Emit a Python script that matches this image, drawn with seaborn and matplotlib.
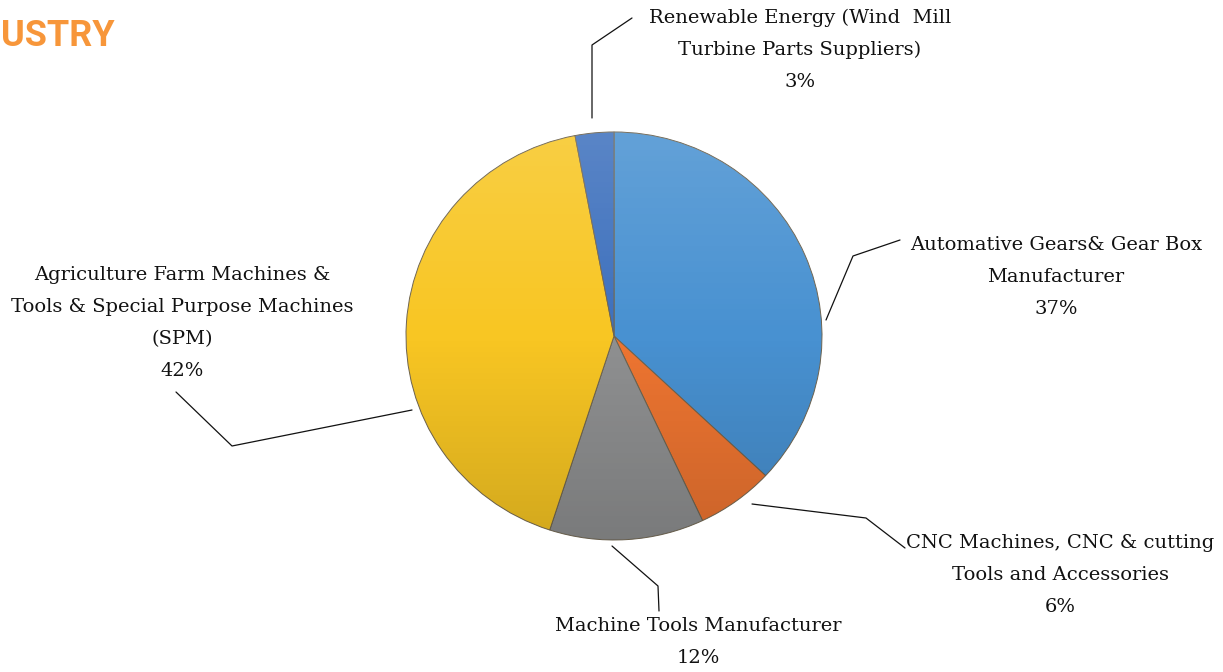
import numpy as np
import seaborn as sns
import matplotlib.pyplot as plt
from matplotlib.patches import Circle

categories = [
    "Automative Gears& Gear Box\nManufacturer",
    "CNC Machines, CNC & cutting\nTools and Accessories",
    "Machine Tools Manufacturer",
    "Agriculture Farm Machines &\nTools & Special Purpose Machines\n(SPM)",
    "Renewable Energy (Wind  Mill\nTurbine Parts Suppliers)",
]
shares = [37, 6, 12, 42, 3]
colors = ["#4891d1", "#ee7531", "#8f9091", "#f8c623", "#3d70bd"]

# label centre (x, middle y) and leader line points, in pixels from top-left
label_pos = [(1056, 277), (1060, 575), (698, 642), (182, 323), (800, 50)]
leaders = [
    [(826, 320), (853, 256), (900, 240)],
    [(752, 504), (866, 518), (905, 548)],
    [(612, 546), (658, 586), (659, 611)],
    [(412, 410), (232, 446), (176, 392)],
    [(592, 118), (592, 45), (632, 18)],
]

sns.set_theme(style="white")
plt.rcParams["font.family"] = ["DejaVu Serif"]

W, H = 1223, 672
fig = plt.figure(figsize=(W / 100, H / 100), dpi=100)
fig.patch.set_facecolor("white")

# pie axes: centre (614, 336), about 416 x 408 px
cx, cy, rx, ry = 614, 336, 208, 204
ax = fig.add_axes([(cx - rx) / W, (H - cy - ry) / H, 2 * rx / W, 2 * ry / H])
wedges, _ = ax.pie(
    shares,
    colors=colors,
    startangle=90,
    counterclock=False,
    radius=1,
    wedgeprops=dict(edgecolor="#6e6450", linewidth=0.7),
)
ax.set_xlim(-1.0, 1.0)
ax.set_ylim(-1.0, 1.0)
ax.set_aspect("auto")
ax.axis("off")

# light top / dark bottom shading to mimic the bevelled excel look
grad = np.linspace(1, 0, 256).reshape(-1, 1)
shade = np.zeros((256, 1, 4))
shade[..., :3] = np.where(grad[..., None] > 0.5, 1.0, 0.0)
shade[..., 3] = np.abs(grad - 0.5) * 0.30
im = ax.imshow(shade, extent=(-1, 1, -1, 1), aspect="auto", zorder=3)
im.set_clip_path(Circle((0, 0), 1, transform=ax.transData))

# overlay axes in pixel coords for labels and leader lines
ov = fig.add_axes([0, 0, 1, 1], facecolor="none")
ov.set_xlim(0, W)
ov.set_ylim(H, 0)
ov.axis("off")

line_h = 32
for cat, pct, (lx, ly), pts in zip(categories, shares, label_pos, leaders):
    lines = cat.split("\n") + [f"{pct}%"]
    y0 = ly - line_h * (len(lines) - 1) / 2
    for i, t in enumerate(lines):
        ov.text(lx, y0 + i * line_h, t, ha="center", va="center",
                fontsize=14, color="#111111")
    xs, ys = zip(*pts)
    ov.plot(xs, ys, color="#111111", linewidth=0.9)

# heading, only its tail is visible in the source picture
fig.text(1 / W, 1 - 36 / H, "USTRY", ha="left", va="center",
         color="#f7963a", fontsize=26, fontweight="bold", family="Roboto")

plt.savefig("out.png", dpi=100)
